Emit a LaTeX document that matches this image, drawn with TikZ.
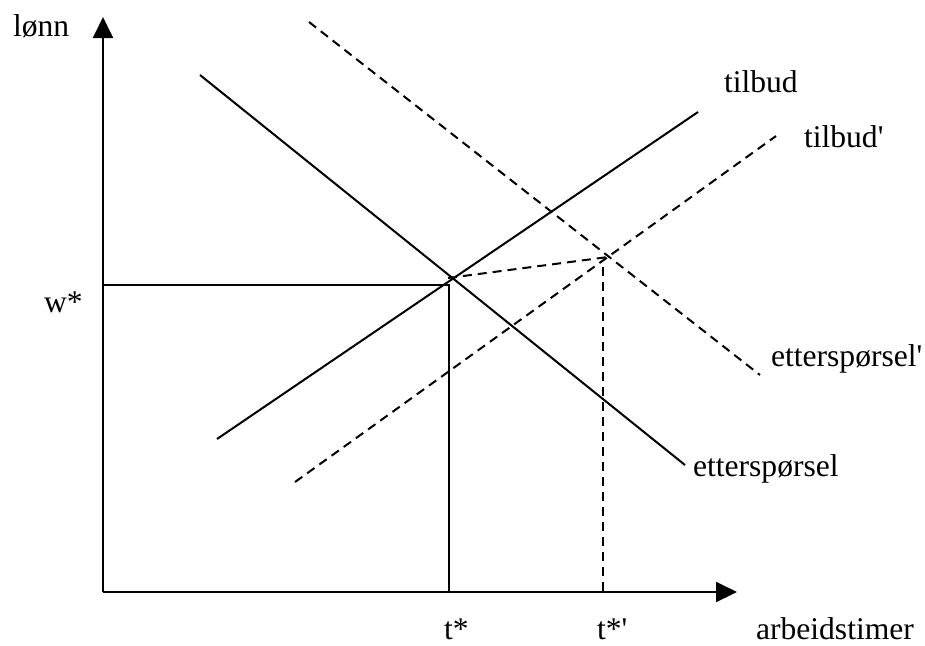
\documentclass[tikz,border=0pt]{standalone}
\usepackage{fontspec}
\setmainfont{Liberation Serif}
\usetikzlibrary{arrows.meta}

\begin{document}
\begin{tikzpicture}[x=0.5pt, y=-0.5pt, line width=1pt, line cap=butt,
  axis/.style={-{Triangle[length=10.5pt,width=10pt]}},
  shifted/.style={dash pattern=on 4.5pt off 3pt},
  lbl/.style={anchor=base west, inner sep=0pt, font=\fontsize{15.8}{19}\selectfont}]

\useasboundingbox (0,0) rectangle (925,645);

% axes
\coordinate (O) at (103,592);
\coordinate (Ytop) at (103,17);
\coordinate (Xend) at (737,592);
\draw[axis] (O) -- (Ytop);
\draw[axis] (O) -- (Xend);

% demand and supply
\coordinate (D1) at (200,75);
\coordinate (D2) at (685,465);
\coordinate (S1) at (217,439);
\coordinate (S2) at (698,112);
\draw (D1) -- (D2);
\draw (S1) -- (S2);

% shifted curves
\coordinate (Dn1) at (309,22);
\coordinate (Dn2) at (760,375);
\coordinate (Sn1) at (295,482);
\coordinate (Sn2) at (776,136);
\draw[shifted] (Dn1) -- (Dn2);
\draw[shifted] (Sn1) -- (Sn2);

% equilibrium
\coordinate (W) at (103,285);
\coordinate (C) at (449,285);
\coordinate (T) at (449,592);
\draw (W) -- (C) -- (T);
\coordinate (E1) at (448,278);
\coordinate (E2) at (608,257);
\draw[shifted] (E1) -- (E2);
\coordinate (Cn) at (603,267);
\coordinate (Tn) at (603,592);
\draw[shifted] (Cn) -- (Tn);

% labels
\node[lbl] (lonn) at (12,36) {lønn};
\node[lbl] (wstar) at (43,312) {w*};
\node[lbl] (tstar) at (443,639) {t*};
\node[lbl] (tstarn) at (596,639) {t*\textquotesingle};
\node[lbl] (timer) at (755,639) {arbeidstimer};
\node[lbl] (tilb) at (723,92) {tilbud};
\node[lbl] (tilbn) at (803,147) {tilbud\textquotesingle};
\node[lbl] (ettn) at (770,366) {etterspørsel\textquotesingle};
\node[lbl] (ett) at (692,476) {etterspørsel};

\end{tikzpicture}
\end{document}
